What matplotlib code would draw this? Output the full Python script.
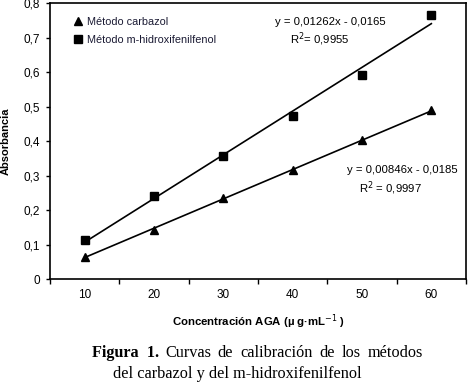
import numpy as np
import matplotlib.pyplot as plt
from matplotlib.ticker import FixedLocator, FixedFormatter

plt.rcParams['font.family'] = ['Liberation Sans', 'DejaVu Sans']

# calibration data
conc = [10, 20, 30, 40, 50, 60]
carbazol = [0.065, 0.143, 0.236, 0.315, 0.402, 0.489]
mhidroxi = [0.113, 0.241, 0.356, 0.474, 0.593, 0.765]
y_ticks = [0, 0.1, 0.2, 0.3, 0.4, 0.5, 0.6, 0.7, 0.8]
y_labels = ['0', '0,1', '0,2', '0,3', '0,4', '0,5', '0,6', '0,7', '0,8']

fig = plt.figure(figsize=(4.73, 3.86), dpi=100)
ax = fig.add_axes([0.1057, 0.277, 0.8795, 0.715])

x = np.array(conc)
# linear fits
p1 = np.polyfit(x, carbazol, 1)
p2 = np.polyfit(x, mhidroxi, 1)
ax.plot(x, np.polyval(p1, x), color='black', lw=1.2)
ax.plot(x, np.polyval(p2, x), color='black', lw=1.2)

ax.plot(x, carbazol, '^', color='black', ms=6, label='Método carbazol')
ax.plot(x, mhidroxi, 's', color='black', ms=5.5, label='Método m-hidroxifenilfenol')

ax.set_xlim(5, 65)
ax.set_ylim(0, 0.8)
ax.xaxis.set_major_locator(FixedLocator([5, 15, 25, 35, 45, 55, 65]))
ax.xaxis.set_major_formatter(FixedFormatter([''] * 7))
ax.xaxis.set_minor_locator(FixedLocator(conc))
ax.xaxis.set_minor_formatter(FixedFormatter([str(c) for c in conc]))
ax.tick_params(axis='x', which='minor', length=0, labelsize=8.5, pad=7)
ax.tick_params(axis='x', which='major', length=3.5, direction='out', width=1)
ax.set_yticks(y_ticks)
ax.set_yticklabels(y_labels)
ax.tick_params(axis='y', length=3, direction='out', width=1, labelsize=8.5, pad=4)
for s in ax.spines.values():
    s.set_linewidth(1.2)

ax.set_xlabel('Concentración AGA (µ g·mL$^{-1}$ )', fontsize=8.2,
              fontweight='bold', labelpad=8)
ax.set_ylabel('Absorbancia', fontsize=8, fontweight='bold')
ax.yaxis.set_label_coords(-0.095, 0.5)

ax.legend(loc='upper left', frameon=False, fontsize=7.8, handlelength=1,
          handletextpad=0.4, labelspacing=0.75, bbox_to_anchor=(0.03, 0.985),
          labelcolor='#1a1a33')

ax.text(0.673, 0.931, 'y = 0,01262x - 0,0165', transform=ax.transAxes,
        fontsize=8.2, ha='center', va='center')
ax.text(0.648, 0.869, 'R$^2$= 0,9955', transform=ax.transAxes,
        fontsize=8.2, ha='center', va='center')
ax.text(0.846, 0.396, 'y = 0,00846x - 0,0185', transform=ax.transAxes,
        fontsize=8.2, ha='center', va='center')
ax.text(0.818, 0.331, 'R$^2$ = 0,9997', transform=ax.transAxes,
        fontsize=8.2, ha='center', va='center')

# caption, first line justified word by word
cap_words = ['Curvas', 'de', 'calibración', 'de', 'los', 'métodos']
x0, x1 = 165, 423
fig.text(92 / 473, 0.086, 'Figura  1.', family='Liberation Serif',
         fontweight='bold', fontsize=11.7, va='center')
renderer = fig.canvas.get_renderer()
items = [fig.text(0, 0.086, w, family='Liberation Serif', fontsize=11.7,
                  va='center') for w in cap_words]
widths = [t.get_window_extent(renderer).width for t in items]
gap = (x1 - x0 - sum(widths)) / (len(items) - 1)
pos = x0
for t, w in zip(items, widths):
    t.set_x(pos / 473)
    pos += w + gap
fig.text(113 / 473, 0.031, 'del carbazol y del m-hidroxifenilfenol',
         family='Liberation Serif', fontsize=11.7, va='center')

fig.savefig('out.png', dpi=100)
